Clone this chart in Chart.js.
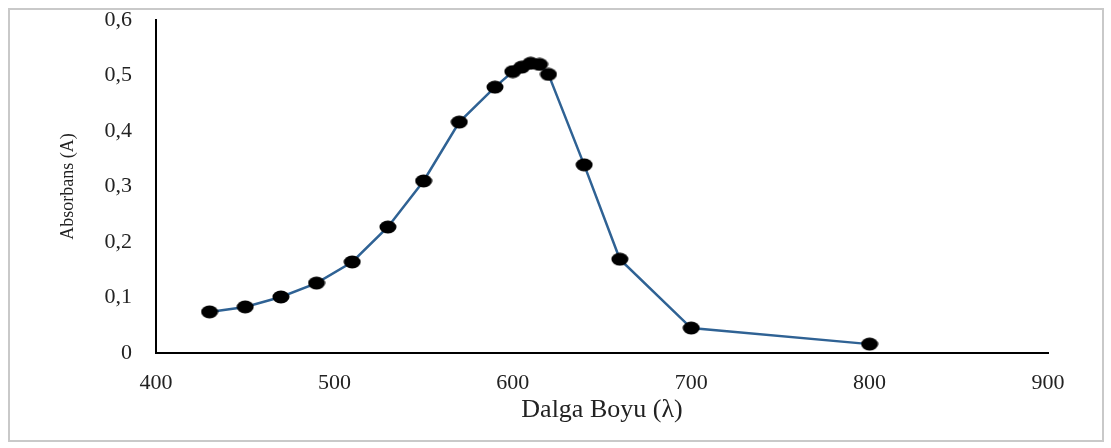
<!DOCTYPE html>
<html>
<head>
<meta charset="utf-8">
<script src="https://cdn.jsdelivr.net/npm/chart.js@4"></script>
<style>
  html, body { margin: 0; padding: 0; background: #fff; }
  #wrap { width: 1111px; height: 448px; }
</style>
</head>
<body>
<div id="wrap"><canvas id="myChart" width="1111" height="448"></canvas></div>
<script>
// wavelength (nm) and absorbance
const dalgaBoyu = [430, 450, 470, 490, 510, 530, 550, 570, 590, 600, 605, 610, 615, 620, 640, 660, 700, 800];
const absorbans = [0.074, 0.083, 0.101, 0.126, 0.164, 0.227, 0.310, 0.416, 0.479, 0.507, 0.515, 0.522, 0.520, 0.502, 0.339, 0.169, 0.045, 0.016];

const xTicks = [400, 500, 600, 700, 800, 900];
const yTicks = ['0', '0,1', '0,2', '0,3', '0,4', '0,5', '0,6'];

// slightly wide black dot, like the original markers
const dot = document.createElement('canvas');
dot.width = 18; dot.height = 14;
const dctx = dot.getContext('2d');
dctx.fillStyle = '#000';
dctx.beginPath();
dctx.ellipse(9, 7, 8.5, 6.5, 0, 0, Math.PI * 2);
dctx.fill();

const ctx = document.getElementById("myChart");

const frame = {
  id: 'frame',
  afterDraw(chart) {
    const c = chart.ctx;
    c.save();
    c.strokeStyle = '#c9c9c9';
    c.lineWidth = 2;
    c.strokeRect(9, 9, 1094, 432);
    c.restore();
  }
};

const data = {
  datasets: [{
    data: dalgaBoyu.map(function (x, i) { return { x: x, y: absorbans[i] }; }),
    showLine: true,
    borderColor: 'rgb(47, 98, 148)',
    borderWidth: 2.5,
    pointStyle: dot,
    pointRadius: 7,
    pointHoverRadius: 7
  }]
};

const config = {
  type: 'scatter',
  data: data,
  options: {
    responsive: false,
    animation: false,
    layout: { padding: { left: 0, top: 0, right: 63, bottom: 0 } },
    plugins: {
      legend: { display: false },
      tooltip: { enabled: false }
    },
    scales: {
      x: {
        type: 'linear',
        min: 400,
        max: 900,
        afterFit: function (s) { s.height = 95; },
        afterBuildTicks: function (s) { s.ticks = xTicks.map(function (v) { return { value: v }; }); },
        grid: { display: false, drawTicks: false },
        border: { display: true, color: '#000', width: 2 },
        ticks: {
          padding: 17,
          color: '#222',
          font: { family: 'Liberation Serif', size: 22 }
        },
        title: {
          display: true,
          text: 'Dalga Boyu (λ)',
          color: '#222',
          font: { family: 'Liberation Serif', size: 26 },
          padding: { top: 0, bottom: 22 }
        }
      },
      y: {
        min: 0,
        max: 0.6,
        afterFit: function (s) { s.width = 156; s.paddingTop = 20; s.paddingBottom = 0; },
        afterBuildTicks: function (s) { s.ticks = yTicks.map(function (t, i) { return { value: i / 10 }; }); },
        grid: { display: false, drawTicks: false },
        border: { display: true, color: '#000', width: 2 },
        ticks: {
          padding: 24,
          color: '#222',
          font: { family: 'Liberation Serif', size: 22 },
          callback: function (v, i) { return yTicks[i]; }
        },
        title: {
          display: true,
          text: 'Absorbans (A)',
          color: '#222',
          font: { family: 'Liberation Serif', size: 18 },
          padding: { top: 57, bottom: 0 }
        }
      }
    }
  },
  plugins: [frame]
};

const myChart = new Chart(ctx, config);
</script>
</body>
</html>
